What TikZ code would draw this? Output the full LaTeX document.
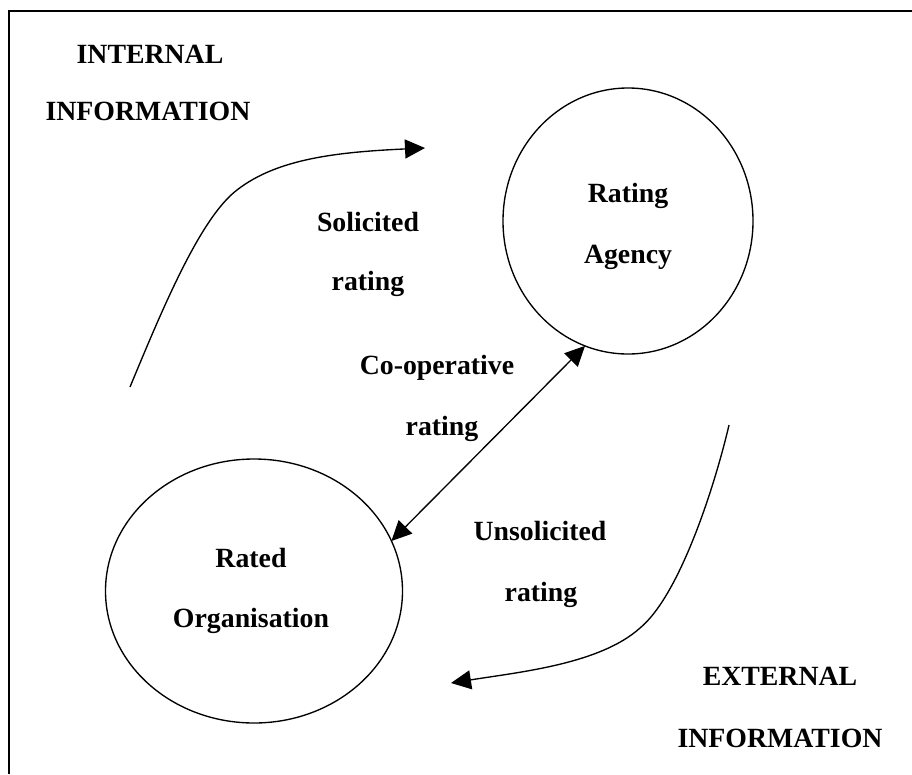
\documentclass[tikz,border=0pt]{standalone}
\usepackage{fontspec}
\setmainfont{Liberation Serif}
\usetikzlibrary{shapes.geometric,arrows.meta}
\begin{document}
\begin{tikzpicture}[x=1pt,y=-1pt,
  lbl/.style={font=\bfseries\fontsize{27.8}{30}\selectfont, anchor=base, inner sep=0pt},
  party/.style={draw, ellipse, line width=1.35pt, inner sep=0pt, outer sep=0pt},
  flow/.style={line width=1.35pt, -{Triangle[length=20pt,width=19pt]}},
  link/.style={line width=1.35pt, {Triangle[length=20pt,width=19pt]}-{Triangle[length=20pt,width=19pt]}}]
\useasboundingbox (0,0) rectangle (912,774);
\fill[white] (0,0) rectangle (912,774);

% frame
\draw[line width=1.9pt, line join=miter] (9,774) -- (9,11) -- (912,11);

% the two parties
\node[party, minimum width=250pt, minimum height=266pt] (ra) at (628,221) {};
\node[party, minimum width=297pt, minimum height=264pt] (ro) at (254,591) {};

\node[lbl] (raA) at (628,202) {Rating};
\node[lbl] (raB) at (628,263) {Agency};
\node[lbl] (roA) at (251,567) {Rated};
\node[lbl] (roB) at (251,627) {Organisation};

% corner labels
\node[lbl] (inA) at (150,63) {INTERNAL};
\node[lbl] (inB) at (148,120) {INFORMATION};
\node[lbl] (exA) at (780,685) {EXTERNAL};
\node[lbl] (exB) at (780,747) {INFORMATION};

% rating-type labels
\node[lbl] (soA) at (368,231) {Solicited};
\node[lbl] (soB) at (368,290) {rating};
\node[lbl] (coA) at (437,374) {Co-operative};
\node[lbl] (coB) at (442,435) {rating};
\node[lbl] (unA) at (540,540) {Unsolicited};
\node[lbl] (unB) at (541,601) {rating};

% solicited flow
\coordinate (s0) at (130,387);
\coordinate (s1) at (237,190);
\coordinate (s2) at (425,148);
\draw[flow] (s0) .. controls (162,310) and (200,218) .. (s1)
                 .. controls (278,158) and (340,152) .. (s2);

% unsolicited flow
\coordinate (u0) at (729,425);
\coordinate (u1) at (640,628);
\coordinate (u2) at (451,683);
\draw[flow] (u0) .. controls (715,485) and (680,595) .. (u1)
                 .. controls (600,664) and (520,672) .. (u2);

% co-operative link
\draw[link] (ro.20) -- (ra.251);
\end{tikzpicture}
\end{document}
